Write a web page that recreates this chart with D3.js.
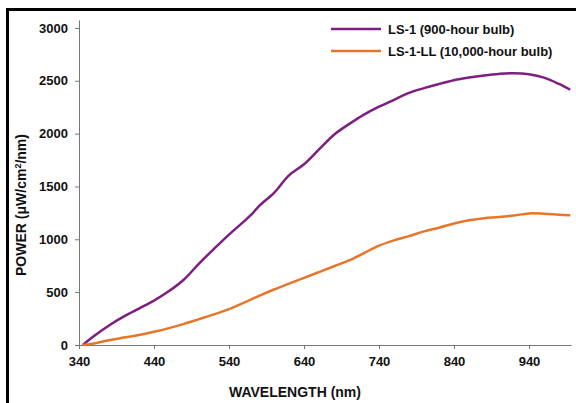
<!DOCTYPE html>
<html>
<head>
<meta charset="utf-8">
<script src="https://cdn.jsdelivr.net/npm/d3@7"></script>
<style>
  body { margin: 0; background: #fff; }
  svg text { font-family: "Liberation Sans", Arial, sans-serif; font-weight: bold; fill: #111; }
  .axis path, .axis line { stroke: #777; }
</style>
</head>
<body>
<svg class="chart" width="576" height="403"></svg>
<script>
// wavelengths (nm)
const wavelengths = [345, 360, 380, 400, 420, 440, 460, 480, 500, 520, 540, 560, 570, 580, 600, 620, 640, 660, 680, 700, 720, 740, 760, 780, 800, 820, 840, 860, 880, 900, 920, 940, 960, 980, 995]
// LS-1 (900-hour bulb)
const ls1 = [0, 85, 185, 270, 345, 420, 510, 620, 770, 910, 1045, 1170, 1235, 1315, 1440, 1605, 1710, 1850, 1990, 2090, 2180, 2255, 2320, 2385, 2430, 2470, 2505, 2530, 2550, 2565, 2572, 2562, 2530, 2470, 2415]
// LS-1-LL (10,000-hour bulb)
const ls1ll = [0, 15, 45, 70, 95, 125, 160, 200, 245, 290, 340, 400, 432, 465, 525, 580, 635, 690, 745, 800, 870, 940, 990, 1030, 1075, 1110, 1150, 1180, 1200, 1210, 1225, 1245, 1242, 1232, 1228]

const xTicks = [340, 440, 540, 640, 740, 840, 940]
const yTicks = [0, 500, 1000, 1500, 2000, 2500, 3000]

const seriesNames = ['LS-1 (900-hour bulb)', 'LS-1-LL (10,000-hour bulb)']
const colors = ['#7d1f80', '#e8762a']

const drawChart = () => {

    const svg = d3.select('.chart')

    // frame: thick black bar on top and left
    svg.append('rect').attr('x', 6).attr('y', 8).attr('width', 570).attr('height', 3).attr('fill', '#000')
    svg.append('rect').attr('x', 6).attr('y', 8).attr('width', 3).attr('height', 395).attr('fill', '#000')

    const xScale = d3.scaleLinear()
        .domain([340, 996])
        .range([79, 571])

    const yScale = d3.scaleLinear()
        .domain([0, 3075])
        .range([345, 20])

    const xAxis = svg.append('g')
        .attr('class', 'axis')
        .attr('transform', 'translate(0,345)')
        .call(d3.axisBottom(xScale).tickValues(xTicks).tickFormat(d3.format('d')).tickSize(4).tickSizeOuter(0).tickPadding(8))

    const yAxis = svg.append('g')
        .attr('class', 'axis')
        .attr('transform', 'translate(79,0)')
        .call(d3.axisLeft(yScale).tickValues(yTicks).tickFormat(d3.format('d')).tickSize(4).tickSizeOuter(0).tickPadding(7))

    svg.selectAll('.axis').attr('font-family', null).attr('font-size', 13)

    // lines
    const line = d3.line()
        .x((d, i) => xScale(wavelengths[i]))
        .y(d => yScale(d))
        .curve(d3.curveCatmullRom)

    ;[ls1, ls1ll].forEach((s, k) => {
        svg.append('path')
            .datum(s)
            .attr('d', line)
            .attr('fill', 'none')
            .attr('stroke', colors[k])
            .attr('stroke-width', 2.5)
    })

    // legend
    seriesNames.forEach((name, k) => {
        const y = 29 + k * 22
        svg.append('line')
            .attr('x1', 331).attr('x2', 381)
            .attr('y1', y).attr('y2', y)
            .attr('stroke', colors[k])
            .attr('stroke-width', 2.5)
        svg.append('text')
            .attr('x', 388).attr('y', y + 5)
            .attr('font-size', 13)
            .text(name)
    })

    // axis titles
    svg.append('text')
        .attr('x', 295).attr('y', 397)
        .attr('text-anchor', 'middle')
        .attr('font-size', 14)
        .text('WAVELENGTH (nm)')

    const yTitle = svg.append('text')
        .attr('transform', 'translate(26,205) rotate(-90)')
        .attr('text-anchor', 'middle')
        .attr('font-size', 14)
    yTitle.append('tspan').text('POWER (μW/cm')
    yTitle.append('tspan').attr('font-size', 9).attr('dy', -5).text('2')
    yTitle.append('tspan').attr('dy', 5).text('/nm)')
}

drawChart()
</script>
</body>
</html>
